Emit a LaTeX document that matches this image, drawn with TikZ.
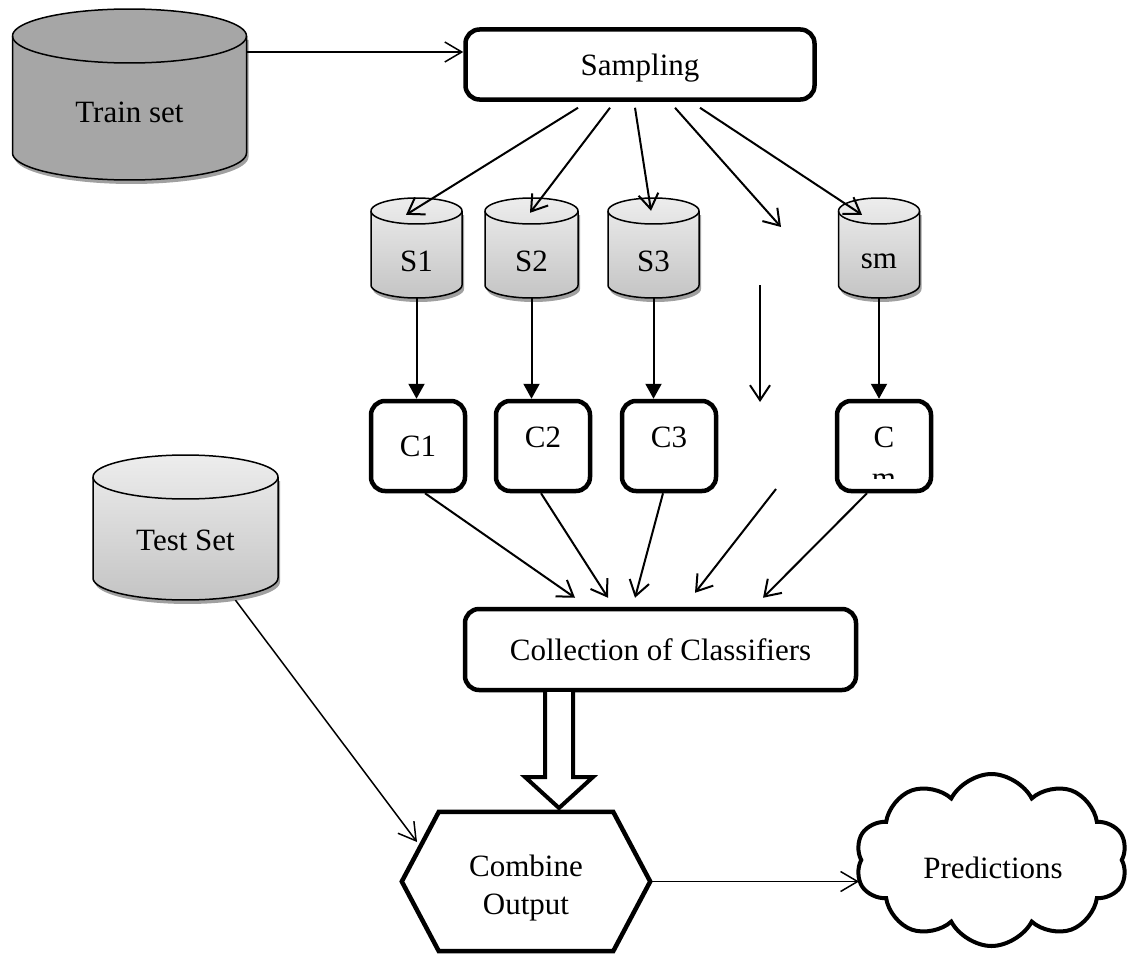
\documentclass[tikz,border=0pt]{standalone}
\usepackage{fontspec}
\setmainfont{Liberation Serif}
\usetikzlibrary{arrows.meta,shapes.symbols,calc}
\definecolor{trainfill}{HTML}{A6A6A6}
\definecolor{cyltop}{HTML}{EDEDED}
\definecolor{cylbot}{HTML}{C4C4C4}
\definecolor{shadowc}{HTML}{A0A0A0}

% #1 name, #2 cx, #3 half width, #4 top ellipse centre y, #5 ry, #6 bottom ellipse centre y, #7 fill style
\newcommand{\dbcyl}[7]{%
  \pgfmathsetmacro\cylw{2*#3}%
  \pgfmathsetmacro\cylh{#6-#4+2*#5}%
  \pgfmathsetmacro\cylc{(#4+#6)/2}%
  \fill[shadowc, shift={(2,4)}] (#2-#3,#4) -- (#2-#3,#6) -- plot[domain=180:360,samples=40] ({#2+#3*cos(\x)},{#6-#5*sin(\x)}) -- (#2+#3,#4) -- cycle;
  \path[#7, draw=black, line width=1.5pt] (#2-#3,#4) -- (#2-#3,#6) -- plot[domain=180:360,samples=40] ({#2+#3*cos(\x)},{#6-#5*sin(\x)}) -- (#2+#3,#4) -- plot[domain=0:180,samples=40] ({#2+#3*cos(\x)},{#4-#5*sin(\x)}) -- cycle;
  \draw[line width=1.5pt] plot[domain=180:360,samples=40] ({#2+#3*cos(\x)},{#4-#5*sin(\x)});
  \node[minimum width=\cylw pt, minimum height=\cylh pt] (#1) at (#2,\cylc) {};
}

\begin{document}
\begin{tikzpicture}[x=1pt,y=-1pt,
  every node/.style={inner sep=0pt, font=\fontsize{31}{36}\selectfont},
  roundbox/.style={draw, line width=4.5pt, rounded corners=14pt},
  cbox/.style={roundbox, minimum width=94pt, minimum height=90pt},
  openarrow/.style={line width=2pt, -{Straight Barb[length=15pt,width=20pt]}},
  thinarrow/.style={line width=1.5pt, -{Straight Barb[length=17pt,width=20pt]}},
  solidarr/.style={line width=2pt, -{Triangle[length=15pt,width=16pt]}},
]
\useasboundingbox (0,0) rectangle (1131,958);

% data stores
\dbcyl{train}{129.5}{117}{36}{27}{153}{fill=trainfill}
\node at (129.5,112) {Train set};

\dbcyl{s1}{416.5}{45.5}{211}{13}{285}{top color=cyltop,bottom color=cylbot}
\node at (416.5,261) {S1};
\dbcyl{s2}{531.5}{46.5}{211}{13}{285}{top color=cyltop,bottom color=cylbot}
\node at (531.5,261) {S2};
\dbcyl{s3}{653.5}{45.5}{211}{13}{285}{top color=cyltop,bottom color=cylbot}
\node at (653.5,261) {S3};
\dbcyl{s4}{879}{40.5}{211}{13}{285}{top color=cyltop,bottom color=cylbot}
\node at (879,261) {sm};

\dbcyl{test}{185.5}{92.5}{477}{22}{578}{top color=cyltop,bottom color=cylbot}
\node at (185.5,540) {Test Set};

% boxes
\node[roundbox, minimum width=349pt, minimum height=70pt, text depth=0pt] (samp) at (640,64.5) {Sampling};

\node[cbox] (c1) at (418,446) {C1};
\node[cbox] (c2) at (543,446) {};
\node[yshift=9pt] at (c2) {C2};
\node[cbox] (c3) at (669,446) {};
\node[yshift=9pt] at (c3) {C3};
\node[cbox] (cm) at (884,446) {};
\node[yshift=9pt] at (cm) {C};
\begin{scope}
  \clip (840,400) rectangle (928,478);
  \node at (884,481) {m};
\end{scope}

\node[roundbox, minimum width=391pt, minimum height=81pt] (coll) at (660.5,649.5) {Collection of Classifiers};

% hexagon
\node[minimum width=248pt, minimum height=139pt] (comb) at (526,881.5) {};
\draw[line width=4.5pt, line join=miter] (comb.west) -- ([xshift=37pt]comb.north west) -- ([xshift=-37pt]comb.north east) -- (comb.east) -- ([xshift=-37pt]comb.south east) -- ([xshift=37pt]comb.south west) -- cycle;
\node[align=center, font=\fontsize{31}{38}\selectfont] at ([yshift=-7pt]comb.center) {Combine\\Output};

% block arrow
\draw[line width=4pt, fill=white, line join=miter] (545,692) -- (545,777) -- (525,777) -- (559,808) -- (593,777) -- (573,777) -- (573,692);

% cloud
\node[cloud, cloud puffs=10, cloud puff arc=125, aspect=1.6, draw, line width=4pt, minimum width=272pt, minimum height=172pt] (pred) at (991.5,860) {};
\node at (993,868) {Predictions};

% connectors
\coordinate (tin) at ([yshift=12.5pt]samp.west);
\draw[thinarrow] (tin -| train.east) -- (tin);

\draw[openarrow] ([xshift=-62pt,yshift=-6pt]samp.south) -- ([xshift=-10.5pt,yshift=-17pt]s1.north);
\draw[openarrow] ([xshift=-30pt,yshift=-6pt]samp.south) -- ([xshift=-1.5pt,yshift=-15pt]s2.north);
\draw[openarrow] ([xshift=-5pt,yshift=-6pt]samp.south) -- ([xshift=-2.5pt,yshift=-13pt]s3.north);
\coordinate (d1) at (781,227);
\draw[openarrow] ([xshift=35pt,yshift=-6pt]samp.south) -- (d1);
\draw[openarrow] ([xshift=60pt,yshift=-6pt]samp.south) -- ([xshift=-17pt,yshift=-17pt]s4.north);

\foreach \i in {1,2,3} \draw[solidarr] (s\i.south) -- (s\i.south |- c\i.north);
\draw[solidarr] (s4.south) -- (s4.south |- cm.north);
\coordinate (d2a) at (760,285);
\coordinate (d2b) at (760,402);
\draw[openarrow] (d2a) -- (d2b);

\draw[openarrow] ([xshift=7pt]c1.south) -- ([xshift=-85.5pt,yshift=9pt]coll.north);
\draw[openarrow] ([xshift=-2pt]c2.south) -- ([xshift=-52.5pt,yshift=9pt]coll.north);
\draw[openarrow] ([xshift=-6pt]c3.south) -- ([xshift=-25.5pt,yshift=9pt]coll.north);
\coordinate (d3) at (776,489);
\draw[openarrow] (d3) -- ([xshift=34.5pt,yshift=14pt]coll.north);
\draw[openarrow] ([xshift=-17pt]cm.south) -- ([xshift=102.5pt,yshift=9pt]coll.north);

\coordinate (tend) at (417,842);
\draw[thinarrow] ([xshift=50pt]test.south) -- (tend);

\draw[thinarrow] (comb.east) -- (comb.east -| pred.west);
\end{tikzpicture}
\end{document}
